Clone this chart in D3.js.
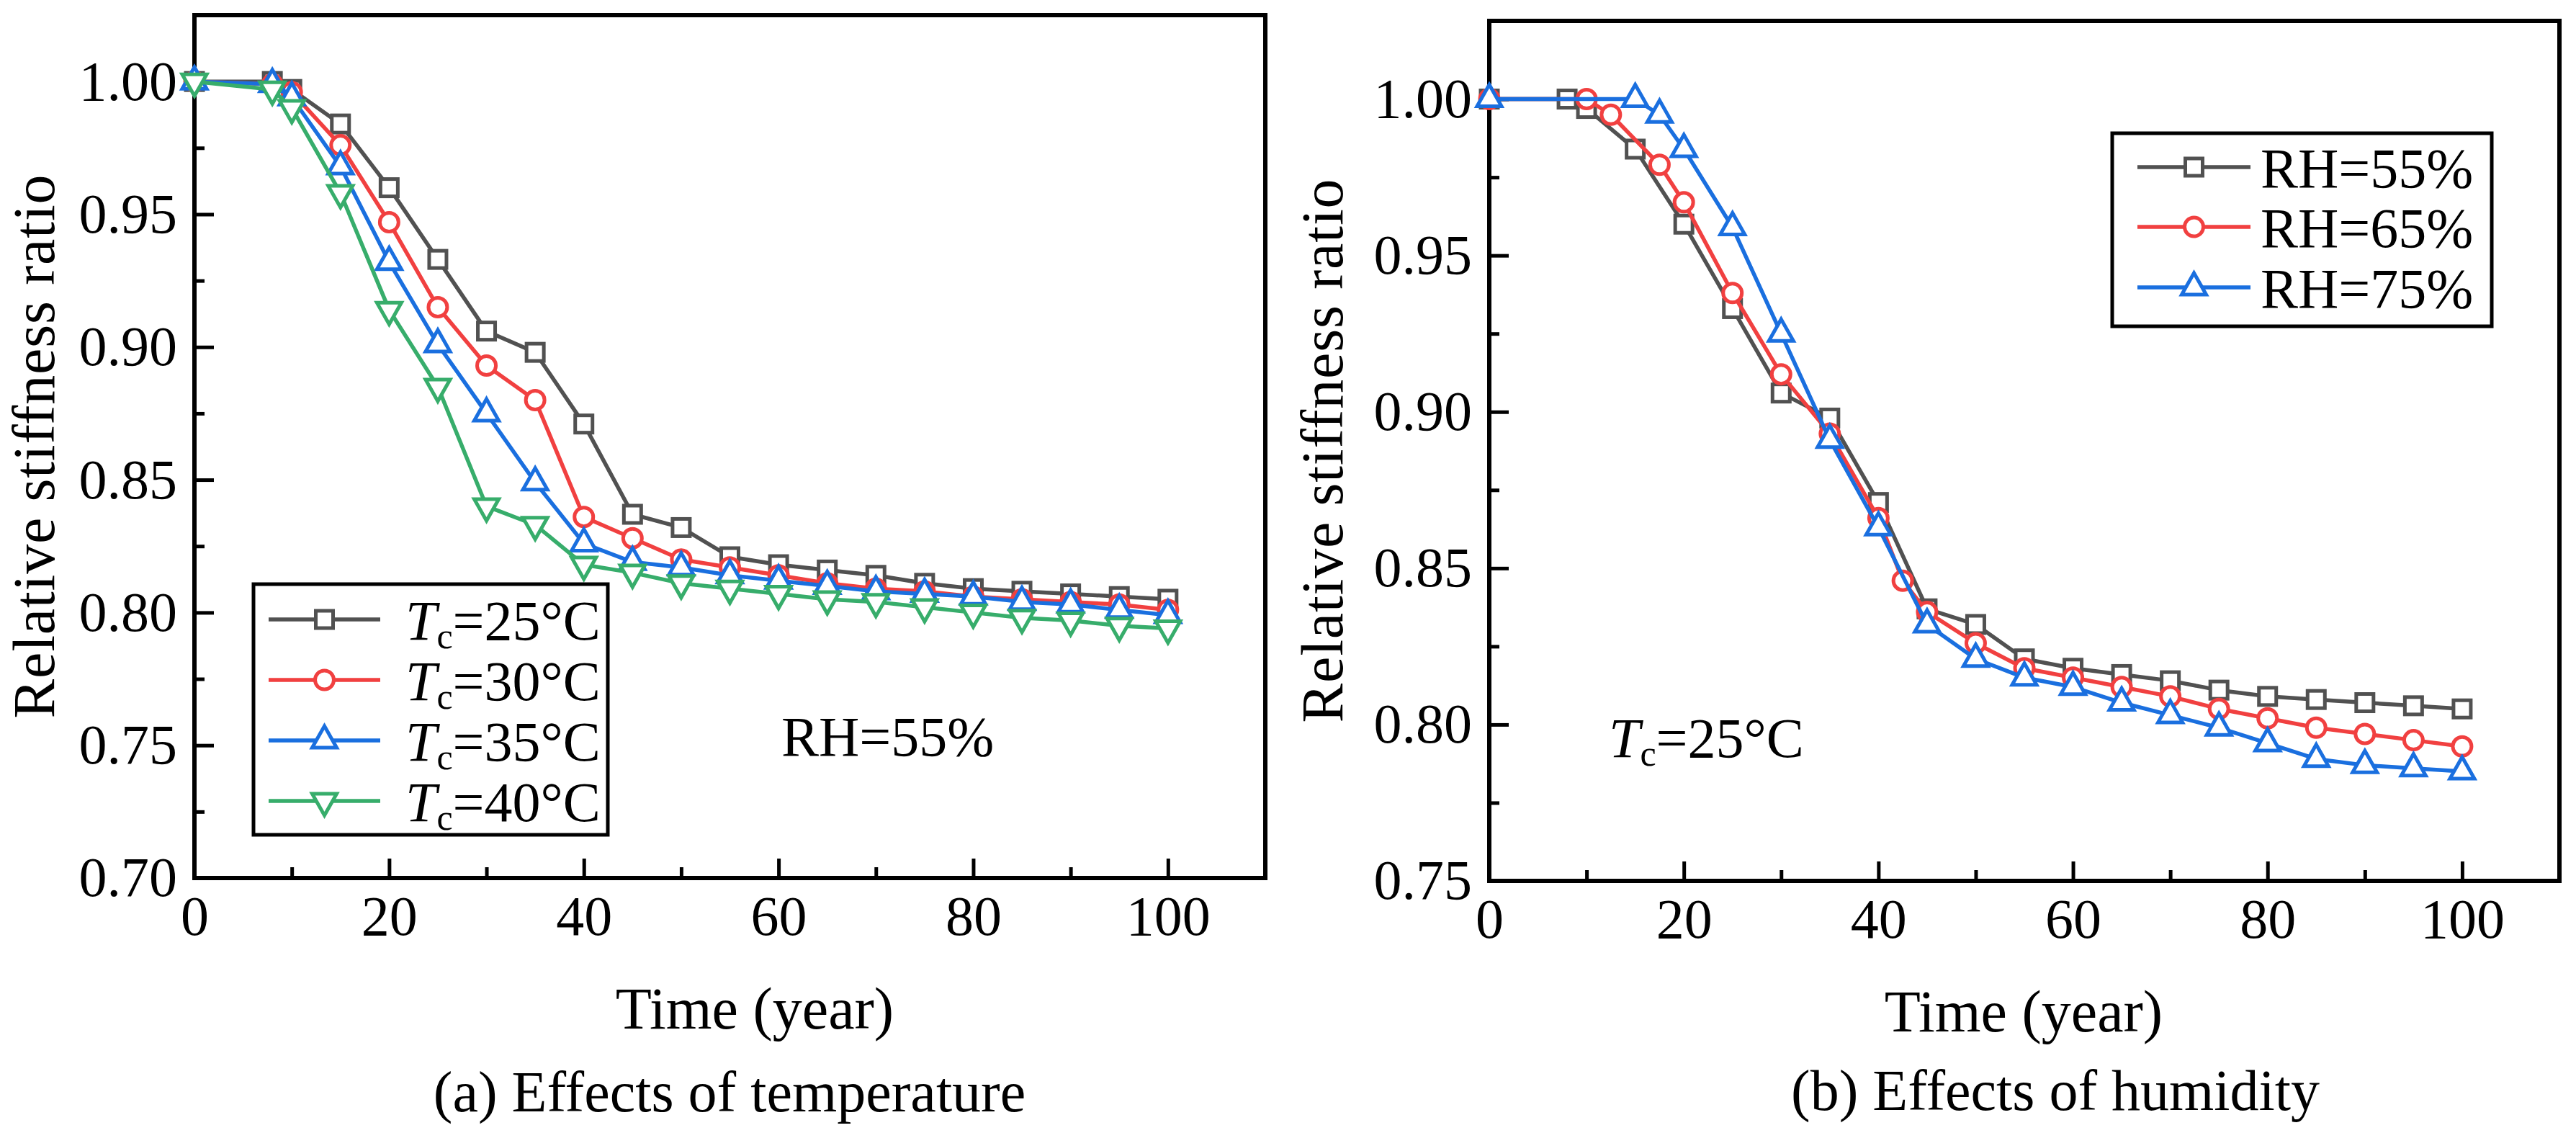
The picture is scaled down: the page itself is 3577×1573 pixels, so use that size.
<!doctype html>
<html lang="en">
<head>
<meta charset="UTF-8">
<title>Relative stiffness ratio</title>
<script src="https://cdn.jsdelivr.net/npm/d3@7"></script>
<style>
    body{ margin:0; background:#fff; }
    svg{ display:block; }
    text{ font-family:"Liberation Serif", "DejaVu Serif", serif; fill:#000; }
</style>
</head>
<body>
<svg width="3577" height="1573"></svg>
<script>
    // data
    const timeA = [0, 8, 10, 15, 20, 25, 30, 35, 40, 45, 50, 55, 60, 65, 70, 75, 80, 85, 90, 95, 100];
    const tc25 = [1.000, 1.000, 0.997, 0.984, 0.960, 0.933, 0.906, 0.898, 0.871, 0.837, 0.832, 0.821, 0.818, 0.816, 0.814, 0.811, 0.809, 0.808, 0.807, 0.806, 0.805];
    const tc30 = [1.000, 0.999, 0.996, 0.976, 0.947, 0.915, 0.893, 0.880, 0.836, 0.828, 0.820, 0.817, 0.814, 0.811, 0.809, 0.808, 0.806, 0.805, 0.804, 0.803, 0.801];
    const tc35 = [1.000, 0.999, 0.994, 0.968, 0.932, 0.901, 0.875, 0.849, 0.826, 0.819, 0.817, 0.814, 0.812, 0.810, 0.808, 0.807, 0.806, 0.804, 0.803, 0.801, 0.799];
    const tc40 = [1.000, 0.997, 0.990, 0.958, 0.914, 0.885, 0.840, 0.833, 0.818, 0.815, 0.811, 0.809, 0.807, 0.805, 0.804, 0.802, 0.800, 0.798, 0.797, 0.795, 0.794];

    const timeRH65 = [0, 10, 12.5, 17.5, 20, 25, 30, 35, 40, 42.5, 45, 50, 55, 60, 65, 70, 75, 80, 85, 90, 95, 100];
    const rh65 = [1.000, 1.000, 0.995, 0.979, 0.967, 0.938, 0.912, 0.893, 0.866, 0.846, 0.836, 0.826, 0.818, 0.815, 0.812, 0.809, 0.805, 0.802, 0.799, 0.797, 0.795, 0.793];
    const timeRH75 = [0, 15, 17.5, 20, 25, 30, 35, 40, 45, 50, 55, 60, 65, 70, 75, 80, 85, 90, 95, 100];
    const rh75 = [1.000, 1.000, 0.995, 0.984, 0.959, 0.925, 0.891, 0.863, 0.832, 0.821, 0.815, 0.812, 0.807, 0.803, 0.799, 0.794, 0.789, 0.787, 0.786, 0.785];

    const xMajor = [0, 20, 40, 60, 80, 100];
    const xMinor = [10, 30, 50, 70, 90];
    const yMajorA = [0.70, 0.75, 0.80, 0.85, 0.90, 0.95, 1.00];
    const yMinorA = [0.725, 0.775, 0.825, 0.875, 0.925, 0.975];
    const yMajorB = [0.75, 0.80, 0.85, 0.90, 0.95, 1.00];
    const yMinorB = [0.775, 0.825, 0.875, 0.925, 0.975];

    const colors = ["#515151", "#F14040", "#1A6FDF", "#37AD6B"];

    const svg = d3.select("svg");
    svg.append("rect").attr("width", 3577).attr("height", 1573).attr("fill", "#fff");

    // marker shapes
    function marker(g, kind, color) {
        if (kind === "square") {
            g.append("rect").attr("x", -12).attr("y", -12).attr("width", 24).attr("height", 24);
        } else if (kind === "circle") {
            g.append("circle").attr("r", 13);
        } else if (kind === "up") {
            g.append("path").attr("d", "M0,-20L17,10L-17,10Z");
        } else {
            g.append("path").attr("d", "M0,20L17,-10L-17,-10Z");
        }
        g.selectAll("*").attr("fill", "#fff").attr("stroke", color).attr("stroke-width", 5)
            .attr("stroke-linejoin", "miter");
    }

    function legendLabel(t, kind, label) {
        if (kind === "tc") {
            t.append("tspan").attr("font-style", "italic").text("T");
            t.append("tspan").attr("font-size", 50).attr("dy", 12).text("c");
            t.append("tspan").attr("dy", -12).text("=" + label + "\u00B0C");
        } else {
            t.text(label);
        }
    }

    function drawPanel(p) {
        const x = d3.scaleLinear().domain([0, 110]).range([p.left, p.right]);
        const y = d3.scaleLinear().domain(p.yDomain).range([p.bottom, p.top]);
        const g = svg.append("g");

        // axes, ticks inward
        const ax = g.append("g").attr("transform", `translate(0,${p.bottom})`)
            .call(d3.axisBottom(x).tickValues(xMajor).tickSizeInner(-27).tickSizeOuter(0).tickPadding(24).tickFormat(d3.format("d")));
        g.append("g").attr("transform", `translate(0,${p.bottom})`)
            .call(d3.axisBottom(x).tickValues(xMinor).tickSizeInner(-15).tickSizeOuter(0).tickFormat(""));
        const ay = g.append("g").attr("transform", `translate(${p.left},0)`)
            .call(d3.axisLeft(y).tickValues(p.yMajor).tickSizeInner(-27).tickSizeOuter(0).tickPadding(24).tickFormat(d3.format(".2f")));
        g.append("g").attr("transform", `translate(${p.left},0)`)
            .call(d3.axisLeft(y).tickValues(p.yMinor).tickSizeInner(-14).tickSizeOuter(0).tickFormat(""));
        g.selectAll(".domain").remove();
        g.selectAll(".tick line").attr("stroke", "#000").attr("stroke-width", 5);
        g.selectAll(".tick text").attr("font-family", "Liberation Serif").attr("font-size", 78).attr("fill", "#000");
        ax.attr("font-size", 78); ay.attr("font-size", 78);

        // frame
        g.append("rect").attr("x", p.left).attr("y", p.top)
            .attr("width", p.right - p.left).attr("height", p.bottom - p.top)
            .attr("fill", "none").attr("stroke", "#000").attr("stroke-width", 6);

        // series
        const line = d3.line().x(d => x(d[0])).y(d => y(d[1]));
        p.series.forEach(s => {
            const pts = s.t.map((t, i) => [t, s.v[i]]);
            g.append("path").datum(pts).attr("d", line).attr("fill", "none")
                .attr("stroke", s.color).attr("stroke-width", 5.5).attr("stroke-linejoin", "round");
            g.selectAll(null).data(pts).enter().append("g")
                .attr("transform", d => `translate(${x(d[0])},${y(d[1])})`)
                .each(function () { marker(d3.select(this), s.marker, s.color); });
        });

        // legend
        const L = p.legend;
        g.append("rect").attr("x", L.x0).attr("y", L.y0).attr("width", L.x1 - L.x0).attr("height", L.y1 - L.y0)
            .attr("fill", "#fff").attr("stroke", "#000").attr("stroke-width", 5);
        p.series.forEach((s, i) => {
            const cy = L.rows[i];
            g.append("line").attr("x1", L.lx0).attr("x2", L.lx1).attr("y1", cy).attr("y2", cy)
                .attr("stroke", s.color).attr("stroke-width", 5.5);
            marker(g.append("g").attr("transform", `translate(${(L.lx0 + L.lx1) / 2},${cy})`), s.marker, s.color);
            const t = g.append("text").attr("x", L.tx).attr("y", cy + 28).attr("font-size", 78);
            legendLabel(t, p.legendKind, s.label);
        });

        // titles
        g.append("text").attr("transform", `translate(${p.yTitleX},${(p.top + p.bottom) / 2}) rotate(-90)`)
            .attr("text-anchor", "middle").attr("font-size", 82)
            .attr("textLength", 755).attr("lengthAdjust", "spacing")
            .text("Relative stiffness ratio");
        g.append("text").attr("x", p.xTitleX).attr("y", p.xTitleY).attr("text-anchor", "middle")
            .attr("font-size", 82).text("Time (year)");
        g.append("text").attr("x", p.capX).attr("y", p.capY).attr("text-anchor", "middle")
            .attr("font-size", 80).text(p.caption);

        // annotation
        const a = g.append("text").attr("x", p.note.x).attr("y", p.note.y).attr("font-size", 78);
        if (p.note.kind === "tc") legendLabel(a, "tc", "25"); else a.text(p.note.text);
    }

    drawPanel({
        left: 270, right: 1757, top: 21, bottom: 1219,
        yDomain: [0.70, 1.025], yMajor: yMajorA, yMinor: yMinorA,
        series: [
            {t: timeA, v: tc25, color: colors[0], marker: "square", label: "25"},
            {t: timeA, v: tc30, color: colors[1], marker: "circle", label: "30"},
            {t: timeA, v: tc35, color: colors[2], marker: "up", label: "35"},
            {t: timeA, v: tc40, color: colors[3], marker: "down", label: "40"}
        ],
        legendKind: "tc",
        legend: {x0: 352, x1: 844, y0: 811, y1: 1159, rows: [860, 944, 1028, 1112], lx0: 373, lx1: 528, tx: 563},
        yTitleX: 75, xTitleX: 1048, xTitleY: 1428,
        caption: "(a) Effects of temperature", capX: 1013, capY: 1543,
        note: {kind: "text", text: "RH=55%", x: 1085, y: 1049}
    });

    drawPanel({
        left: 2068, right: 3554, top: 29, bottom: 1223,
        yDomain: [0.75, 1.025], yMajor: yMajorB, yMinor: yMinorB,
        series: [
            {t: timeA, v: tc25, color: colors[0], marker: "square", label: "RH=55%"},
            {t: timeRH65, v: rh65, color: colors[1], marker: "circle", label: "RH=65%"},
            {t: timeRH75, v: rh75, color: colors[2], marker: "up", label: "RH=75%"}
        ],
        legendKind: "rh",
        legend: {x0: 2933, x1: 3460, y0: 185, y1: 453, rows: [232, 315, 399], lx0: 2968, lx1: 3125, tx: 3139},
        yTitleX: 1864, xTitleX: 2810, xTitleY: 1432,
        caption: "(b) Effects of humidity", capX: 2854, capY: 1541,
        note: {kind: "tc", x: 2234, y: 1051}
    });
</script>
</body>
</html>
